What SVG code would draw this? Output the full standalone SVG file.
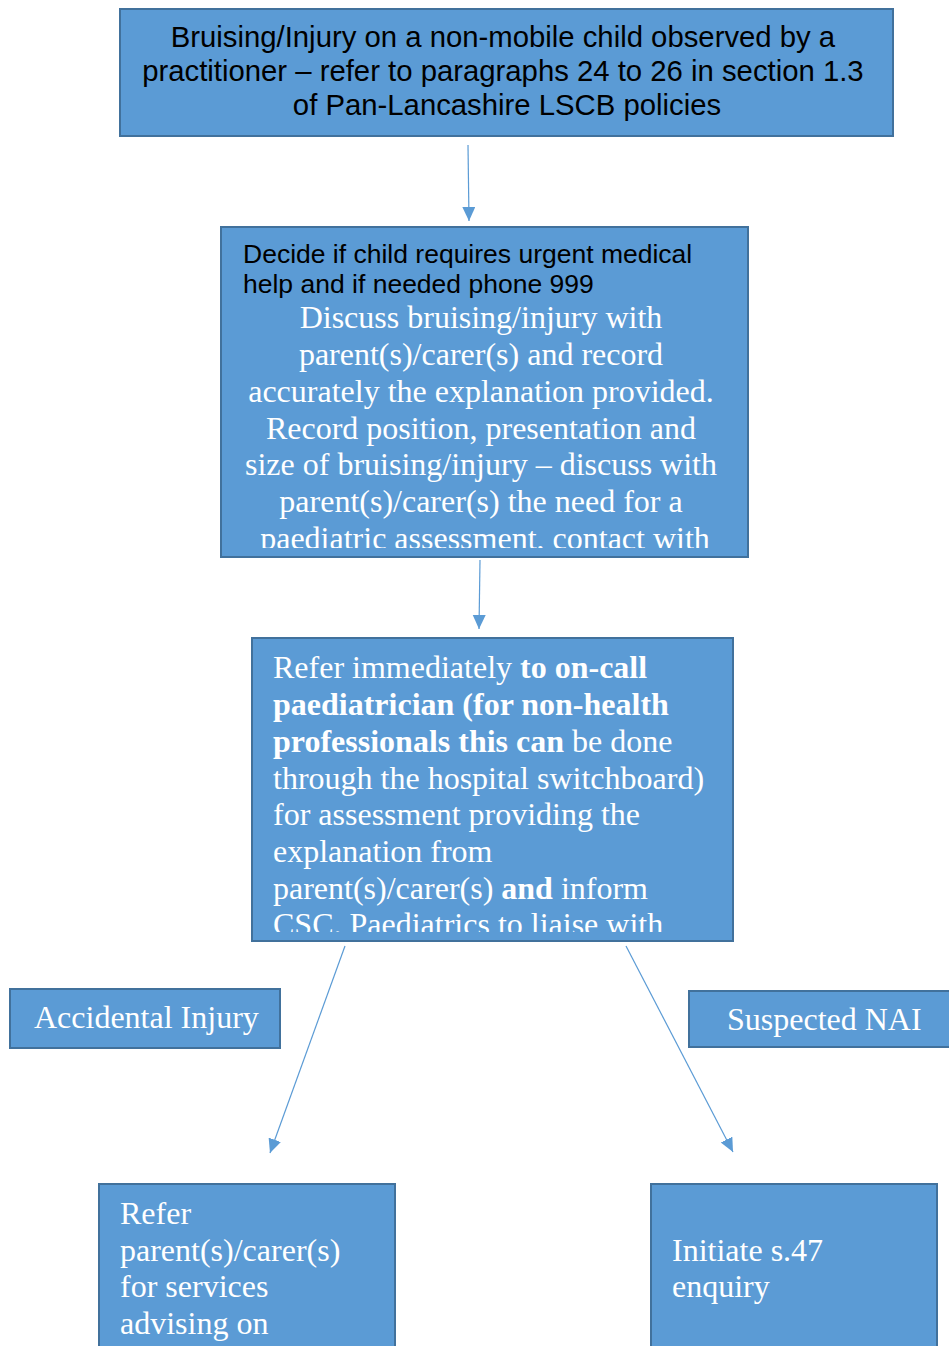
<svg xmlns="http://www.w3.org/2000/svg" width="949" height="1346" viewBox="0 0 949 1346">
<style>
.box{fill:#5B9BD5;stroke:#41719C;stroke-width:2}
.sans{font-family:"Liberation Sans",Arial,sans-serif;fill:#000}
.serif{font-family:"Liberation Serif","Times New Roman",serif;fill:#fff;font-size:32px}
.conn{stroke:#5B9BD5;stroke-width:1.2;fill:none;marker-end:url(#ah)}
</style>
<defs>
<marker id="ah" markerUnits="userSpaceOnUse" markerWidth="16" markerHeight="14" refX="14" refY="6.5" orient="auto">
<path d="M0,0 L14,6.5 L0,13 Z" fill="#5B9BD5"/>
</marker>
<clipPath id="c2"><rect x="222" y="228" width="525" height="320"/></clipPath>
<clipPath id="c3"><rect x="253" y="639" width="479" height="293"/></clipPath>
</defs>
<rect width="949" height="1346" fill="#fff"/>
<g id="connectors">
<line class="conn" x1="468" y1="145" x2="469" y2="221"/>
<line class="conn" x1="480" y1="560" x2="479" y2="629"/>
<line class="conn" x1="345" y1="946" x2="270" y2="1153"/>
<line class="conn" x1="626" y1="946" x2="733" y2="1152"/>
</g>
<g id="node-observed">
<rect class="box" x="120" y="9" width="773" height="127"/>
<text class="sans" font-size="29.3" text-anchor="middle">
<tspan x="507" y="47">Bruising/Injury on a non-mobile child observed by a</tspan>
<tspan x="507" y="81">practitioner – refer to paragraphs 24 to 26 in section 1.3</tspan>
<tspan x="507" y="115">of Pan-Lancashire LSCB policies</tspan>
</text>
</g>
<g id="node-decide">
<rect class="box" x="221" y="227" width="527" height="330"/>
<text class="sans" font-size="26.5">
<tspan x="243" y="263">Decide if child requires urgent medical</tspan>
<tspan x="243" y="293">help and if needed phone 999</tspan>
</text>
<g clip-path="url(#c2)">
<text class="serif" text-anchor="middle">
<tspan x="485" y="328">Discuss bruising/injury with</tspan>
<tspan x="485" y="365">parent(s)/carer(s) and record</tspan>
<tspan x="485" y="402">accurately the explanation provided.</tspan>
<tspan x="485" y="439">Record position, presentation and</tspan>
<tspan x="485" y="475">size of bruising/injury – discuss with</tspan>
<tspan x="485" y="512">parent(s)/carer(s) the need for a</tspan>
<tspan x="485" y="549">paediatric assessment, contact with</tspan>
</text>
</g>
</g>
<g id="node-refer-paed">
<rect class="box" x="252" y="638" width="481" height="303"/>
<g clip-path="url(#c3)">
<text class="serif">
<tspan x="273" y="678">Refer immediately <tspan font-weight="bold">to on-call</tspan></tspan>
<tspan x="273" y="715" font-weight="bold">paediatrician (for non-health</tspan>
<tspan x="273" y="752"><tspan font-weight="bold">professionals this can</tspan> be done</tspan>
<tspan x="273" y="789">through the hospital switchboard)</tspan>
<tspan x="273" y="825">for assessment providing the</tspan>
<tspan x="273" y="862">explanation from</tspan>
<tspan x="273" y="899">parent(s)/carer(s) <tspan font-weight="bold">and</tspan> inform</tspan>
<tspan x="273" y="935">CSC. Paediatrics to liaise with</tspan>
</text>
</g>
</g>
<g id="node-accidental">
<rect class="box" x="10" y="989" width="270" height="59"/>
<text class="serif" x="34" y="1028">Accidental Injury</text>
</g>
<g id="node-nai">
<rect class="box" x="689" y="991" width="270" height="56"/>
<text class="serif" x="727" y="1030">Suspected NAI</text>
</g>
<g id="node-refer-services">
<rect class="box" x="99" y="1184" width="296" height="170"/>
<text class="serif">
<tspan x="120" y="1224">Refer</tspan>
<tspan x="120" y="1261">parent(s)/carer(s)</tspan>
<tspan x="120" y="1297">for services</tspan>
<tspan x="120" y="1334">advising on</tspan>
</text>
</g>
<g id="node-s47">
<rect class="box" x="651" y="1184" width="286" height="170"/>
<text class="serif">
<tspan x="672" y="1261">Initiate s.47</tspan>
<tspan x="672" y="1297">enquiry</tspan>
</text>
</g>
</svg>
